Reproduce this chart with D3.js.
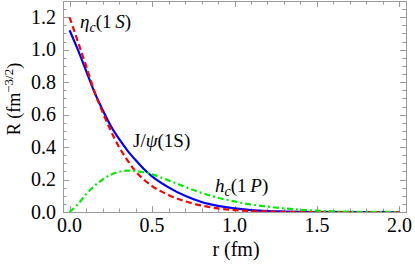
<!DOCTYPE html>
<meta charset="utf-8">
<script src="https://d3js.org/d3.v7.min.js"></script>
<style>
  body { margin: 0; background: #fff; }
  text { font-family: "Liberation Serif", "DejaVu Serif", serif; fill: #000; }
</style>
<div id="my_dataviz"></div>
<script>

// radial positions (fm) and wave functions
var rJpsi = [0, 0.05, 0.1, 0.15, 0.2, 0.25, 0.3, 0.35, 0.4, 0.45, 0.5, 0.6, 0.7, 0.8, 0.9, 1.0, 1.1, 1.2, 1.3, 1.4, 1.5, 1.6, 1.8, 2.0]
var Rjpsi = [1.12, 1.00, 0.87, 0.74, 0.63, 0.53, 0.45, 0.38, 0.32, 0.265, 0.22, 0.152, 0.10, 0.062, 0.038, 0.022, 0.012, 0.006, 0.003, 0.001, 0, 0, 0, 0]

var rEta = [0, 0.05, 0.1, 0.15, 0.2, 0.25, 0.3, 0.35, 0.4, 0.45, 0.5, 0.6, 0.7, 0.8, 0.9, 1.0, 1.1, 1.2, 1.3, 1.4, 1.6, 1.8, 2.0]
var Reta = [1.20, 1.05, 0.90, 0.745, 0.615, 0.50, 0.40, 0.32, 0.25, 0.20, 0.16, 0.105, 0.066, 0.040, 0.022, 0.012, 0.006, 0.003, 0.001, 0, 0, 0, 0]

var rHc = [0, 0.05, 0.1, 0.15, 0.2, 0.25, 0.3, 0.35, 0.4, 0.45, 0.5, 0.6, 0.7, 0.8, 0.9, 1.0, 1.1, 1.2, 1.3, 1.4, 1.5, 1.6, 1.7, 1.8, 2.0]
var Rhc = [0, 0.048, 0.11, 0.16, 0.20, 0.23, 0.248, 0.255, 0.252, 0.245, 0.232, 0.195, 0.155, 0.118, 0.088, 0.065, 0.046, 0.033, 0.022, 0.014, 0.008, 0.004, 0.002, 0.001, 0]

var xTicks = [0, 0.5, 1.0, 1.5, 2.0]
var yTicks = [0, 0.2, 0.4, 0.6, 0.8, 1.0, 1.2]

var width = 415, height = 266
var pLeft = 63, pRight = 406, pTop = 1, pBottom = 212

var svg = d3.select("#my_dataviz")
  .append("svg")
    .attr("width", width)
    .attr("height", height)

var x = d3.scaleLinear().domain([-0.04, 2.04]).range([pLeft, pRight])
var y = d3.scaleLinear().domain([0, 1.3]).range([pBottom, pTop])

// clip
svg.append("clipPath").attr("id", "clip")
  .append("rect").attr("x", pLeft).attr("y", pTop).attr("width", pRight - pLeft).attr("height", pBottom - pTop)

var frameColor = "#9a9a9a"

// frame ticks (inside) - minor and major
var xMinor = d3.range(0, 2.001, 0.1)
var yMinor = d3.range(0, 1.301, 0.05)
var tickG = svg.append("g").attr("stroke", frameColor).attr("stroke-width", 1)

xMinor.forEach(function(v) {
  var major = Math.abs(v * 2 - Math.round(v * 2)) < 1e-6
  var len = major ? 6 : 3.5
  var px = Math.round(x(v)) + 0.5
  tickG.append("line").attr("x1", px).attr("x2", px).attr("y1", pBottom).attr("y2", pBottom - len)
  tickG.append("line").attr("x1", px).attr("x2", px).attr("y1", pTop).attr("y2", pTop + len)
})
yMinor.forEach(function(v) {
  var major = Math.abs(v * 5 - Math.round(v * 5)) < 1e-6
  var len = major ? 6 : 3.5
  var py = Math.round(y(v)) + 0.5
  tickG.append("line").attr("y1", py).attr("y2", py).attr("x1", pLeft).attr("x2", pLeft + len)
  tickG.append("line").attr("y1", py).attr("y2", py).attr("x1", pRight).attr("x2", pRight - len)
})

// frame
svg.append("rect")
  .attr("x", pLeft + 0.5).attr("y", pTop + 0.5)
  .attr("width", pRight - pLeft).attr("height", pBottom - pTop)
  .attr("fill", "none").attr("stroke", frameColor).attr("stroke-width", 1)

// tick labels
svg.selectAll("xlab").data(xTicks).enter().append("text")
  .attr("x", function(d){ return x(d) })
  .attr("y", 232)
  .attr("text-anchor", "middle")
  .style("font-size", "20px")
  .text(function(d){ return d.toFixed(1) })

svg.selectAll("ylab").data(yTicks).enter().append("text")
  .attr("x", 56)
  .attr("y", function(d){ return y(d) + 6.5 })
  .attr("text-anchor", "end")
  .style("font-size", "20px")
  .text(function(d){ return d.toFixed(1) })

// axis labels
svg.append("text")
  .attr("x", 236).attr("y", 256)
  .attr("text-anchor", "middle")
  .style("font-size", "20px")
  .text("r (fm)")

var yl = svg.append("text")
  .attr("transform", "translate(20,99)rotate(-90)")
  .attr("text-anchor", "middle")
  .style("font-size", "18px")
yl.append("tspan").text("R (fm")
yl.append("tspan").attr("dy", -7).style("font-size", "13px").text("\u22123/2")
yl.append("tspan").attr("dy", 7).text(")")

// curves
var line = d3.line()
  .x(function(d){ return x(d[0]) })
  .y(function(d){ return y(d[1]) })
  .curve(d3.curveMonotoneX)

var plot = svg.append("g").attr("clip-path", "url(#clip)")

plot.append("path")
  .datum(d3.zip(rJpsi, Rjpsi))
  .attr("d", line)
  .attr("fill", "none")
  .attr("stroke", "#0000ff")
  .attr("stroke-width", 2.2)

plot.append("path")
  .datum(d3.zip(rEta, Reta))
  .attr("d", line)
  .attr("fill", "none")
  .attr("stroke", "#ff0000")
  .attr("stroke-width", 2.2)
  .attr("stroke-dasharray", "6,3.5")

plot.append("path")
  .datum(d3.zip(rHc, Rhc))
  .attr("d", line)
  .attr("fill", "none")
  .attr("stroke", "#00ee00")
  .attr("stroke-width", 2.2)
  .attr("stroke-dasharray", "6,3,2,3")

// curve labels
var t1 = svg.append("text").attr("x", 80).attr("y", 28).style("font-size", "19px")
t1.append("tspan").style("font-style", "italic").text("\u03b7")
t1.append("tspan").attr("dy", 4).style("font-size", "14px").style("font-style", "italic").text("c")
t1.append("tspan").attr("dy", -4).text("(1\u2009")
t1.append("tspan").style("font-style", "italic").text("S")
t1.append("tspan").text(")")

var t2 = svg.append("text").attr("x", 133).attr("y", 147).style("font-size", "19px")
t2.append("tspan").text("J/")
t2.append("tspan").style("font-style", "italic").text("\u03c8")
t2.append("tspan").text("(1S)")

var t3 = svg.append("text").attr("x", 215).attr("y", 192).style("font-size", "19px")
t3.append("tspan").style("font-style", "italic").text("h")
t3.append("tspan").attr("dy", 4).style("font-size", "14px").style("font-style", "italic").text("c")
t3.append("tspan").attr("dy", -4).text("(1\u2009")
t3.append("tspan").style("font-style", "italic").text("P")
t3.append("tspan").text(")")

</script>
